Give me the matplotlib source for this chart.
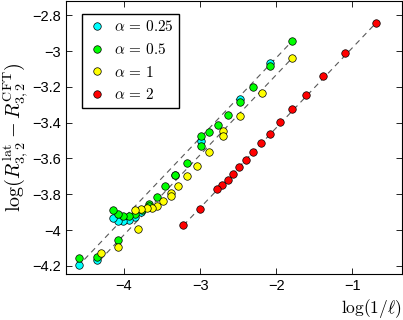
import numpy as np
import matplotlib
matplotlib.use("Agg")
import matplotlib.pyplot as plt

plt.rcParams['mathtext.fontset'] = 'cm'
plt.rcParams['font.family'] = ['Liberation Sans', 'DejaVu Sans']

# alpha = 0.25 (cyan)
x_a025 = [-2.08, -2.47, -2.99, -3.33, -3.78, -3.855, -3.934, -4.01, -4.075, -4.14, -4.36, -4.59]
y_a025 = [-3.065, -3.27, -3.504, -3.69, -3.901, -3.929, -3.946, -3.95, -3.948, -3.933, -4.166, -4.194]

# alpha = 0.5 (green)
x_a05 = [-1.79, -2.08, -2.30, -2.48, -2.63, -2.76, -2.88, -2.99, -2.99, -3.175, -3.33,
         -3.46, -3.57, -3.675, -3.675, -3.767, -3.86, -3.934, -4.01, -4.08, -4.15,
         -4.08, -4.36, -4.59]
y_a05 = [-2.944, -3.086, -3.198, -3.285, -3.358, -3.414, -3.453, -3.476, -3.532, -3.625, -3.694,
         -3.756, -3.815, -3.853, -3.866, -3.890, -3.909, -3.920, -3.920, -3.909, -3.886,
         -4.058, -4.151, -4.155]

# alpha = 1 (yellow)
x_a1 = [-1.79, -2.19, -2.48, -2.70, -2.70, -2.88, -3.037, -3.168, -3.286, -3.382, -3.382,
        -3.484, -3.565, -3.63, -3.70, -3.77, -3.855, -3.812, -4.083, -4.302]
y_a1 = [-3.039, -3.233, -3.36, -3.444, -3.477, -3.565, -3.640, -3.700, -3.752, -3.793, -3.808,
        -3.836, -3.866, -3.874, -3.879, -3.880, -3.886, -3.994, -4.097, -4.129]

# alpha = 2 (red), x = log(1/l)
l_a2 = [2, 3, 4, 5, 6, 7, 8, 9, 10, 11, 12, 13, 14, 15, 16, 20, 25]
y_a2 = [-2.845, -3.011, -3.14, -3.243, -3.325, -3.399, -3.461, -3.515, -3.565, -3.606,
        -3.647, -3.684, -3.718, -3.75, -3.773, -3.882, -3.97]
x_a2 = np.log(1.0 / np.array(l_a2))

# dashed fits: slope, intercept, x range
fit_slope = 0.447
fit_icpt = [-2.144, -2.239, -2.535]
fit_xmin = [-4.52, -4.32, -3.22]
fit_xmax = [-1.79, -1.79, -0.69]

fig = plt.figure(figsize=(4.03, 3.2), dpi=100)
ax = fig.add_axes([0.164, 0.144, 0.833, 0.853])

for b, x0, x1 in zip(fit_icpt, fit_xmin, fit_xmax):
    xs = np.array([x0, x1])
    ax.plot(xs, fit_slope * xs + b, ls=(0, (5, 4)), color='0.35', lw=0.8, zorder=1)

mk = dict(ls='none', marker='o', ms=5.4, mec='k', mew=0.5, zorder=3)
ax.plot(x_a025, y_a025, mfc=(0, 1, 1), label=r'$\alpha\,=\,0.25$', **mk)
ax.plot(x_a05, y_a05, mfc=(0, 1, 0), label=r'$\alpha\,=\,0.5$', **mk)
ax.plot(x_a1, y_a1, mfc=(1, 1, 0), label=r'$\alpha\,=\,1$', **mk)
ax.plot(x_a2, y_a2, mfc=(1, 0, 0), label=r'$\alpha\,=\,2$', **mk)

ax.set_xlim(-4.76, -0.35)
ax.set_ylim(-4.245, -2.72)
xt = [-4, -3, -2, -1]
yt = [-2.8, -3, -3.2, -3.4, -3.6, -3.8, -4, -4.2]
ax.set_xticks(xt)
ax.set_xticklabels(['\u2212' + f'{-v:g}' for v in xt])
ax.set_yticks(yt)
ax.set_yticklabels(['\u2212' + f'{-v:g}' for v in yt])
ax.tick_params(direction='in', top=True, right=True, labelsize=10.5, length=4, width=0.6)
for s in ax.spines.values():
    s.set_linewidth(0.8)

ax.set_xlabel(r'$\log(1/\ell)$', fontsize=12.5, loc='right', labelpad=3)
ax.set_ylabel(r'$\log(R^{\rm lat}_{3,2} - R^{\rm CFT}_{3,2})$', fontsize=14.5, labelpad=1)

leg = ax.legend(loc='upper left', bbox_to_anchor=(0.048, 0.952), borderaxespad=0,
                fancybox=False, edgecolor='k', framealpha=1, prop={'size': 11},
                handletextpad=0.5, labelspacing=0.5, handlelength=1.2, borderpad=0.35)
leg.get_frame().set_linewidth(1.0)

fig.savefig('out.png', dpi=100)
